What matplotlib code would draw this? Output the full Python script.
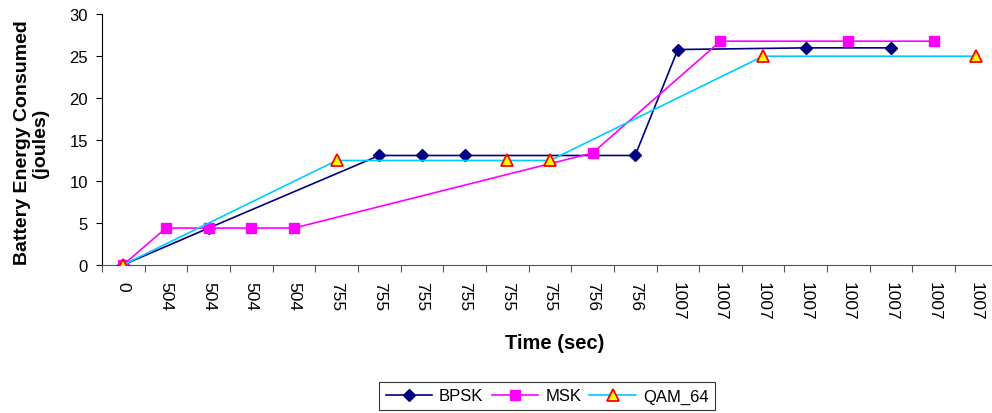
import matplotlib.pyplot as plt
import numpy as np

# time labels (categorical x axis, as in the spreadsheet)
time_labels = ["0", "504", "504", "504", "504", "755", "755", "755", "755", "755",
               "755", "756", "756", "1007", "1007", "1007", "1007", "1007", "1007",
               "1007", "1007"]

# battery energy consumed (joules), None = no point at that row
bpsk = [0, None, 4.4, None, None, None, 13.1, 13.1, 13.1, None,
        None, None, 13.1, 25.8, None, None, 26.0, None, 26.0, None, None]
msk = [0, 4.4, 4.4, 4.4, 4.4, None, None, None, None, None,
       None, 13.4, None, None, 26.8, None, None, 26.8, None, 26.8, None]
qam64 = [0, None, None, None, None, 12.5, None, None, None, 12.5,
         12.5, None, None, None, None, 25.0, None, None, None, None, 25.0]

plt.rcParams['font.family'] = ['Liberation Sans', 'DejaVu Sans']

fig = plt.figure(figsize=(9.92, 4.14), dpi=100)
ax = fig.add_axes([0.1028, 0.358, 0.903, 0.6046])


def pts(vals):
    idx = np.array([i for i, v in enumerate(vals) if v is not None])
    ys = np.array([v for v in vals if v is not None])
    return idx, ys


x, y = pts(bpsk)
ax.plot(x, y, color='#000080', lw=1.2, marker='D', ms=6.5, mfc='#000080',
        mec='#000080', label='BPSK', zorder=3)
x, y = pts(msk)
ax.plot(x, y, color='#FF00FF', lw=1.2, marker='s', ms=7.5, mfc='#FF00FF',
        mec='#FF00FF', label='MSK', zorder=3)
x, y = pts(qam64)
ax.plot(x, y, color='#00CCFF', lw=1.2, marker='^', ms=8, mfc='#FFFF00',
        mec='#FF0000', mew=1.3, label='QAM_64', zorder=4)

n = len(time_labels)
ax.set_xlim(-0.5, n - 0.5)
ax.set_ylim(0, 30)
ax.set_yticks(np.arange(0, 31, 5))
ax.tick_params(axis='y', labelsize=12, length=4, pad=6, direction='out')

# tick marks at category borders, labels in the middle
ax.set_xticks(np.arange(n + 1) - 0.5)
ax.set_xticklabels([])
ax.tick_params(axis='x', which='major', length=5, direction='out', color='#555555')
ax.set_xticks(np.arange(n), minor=True)
ax.set_xticklabels(time_labels, minor=True, rotation=-90, fontsize=12.5)
ax.tick_params(axis='x', which='minor', length=0, pad=12)

for s in ['top', 'right']:
    ax.spines[s].set_visible(False)
ax.spines['bottom'].set_color('#555555')

fig.text(0.559, 1 - 344 / 414, "Time (sec)", ha='center', va='center',
         fontsize=14.5, fontweight='bold')
fig.text(0.032, 1 - 143 / 414, "Battery Energy Consumed\n(joules)", ha='center',
         va='center', rotation=90, fontsize=14, fontweight='bold',
         multialignment='center', linespacing=1.1)

leg = fig.legend(loc='center', bbox_to_anchor=(0.5515, 1 - 397 / 414), ncol=3,
                 fontsize=12, frameon=True, fancybox=False, edgecolor='black',
                 handlelength=2.8, columnspacing=0.5, handletextpad=0.4,
                 borderpad=0.4, borderaxespad=0)
leg.get_frame().set_linewidth(0.8)

fig.savefig('out.png', dpi=100)
